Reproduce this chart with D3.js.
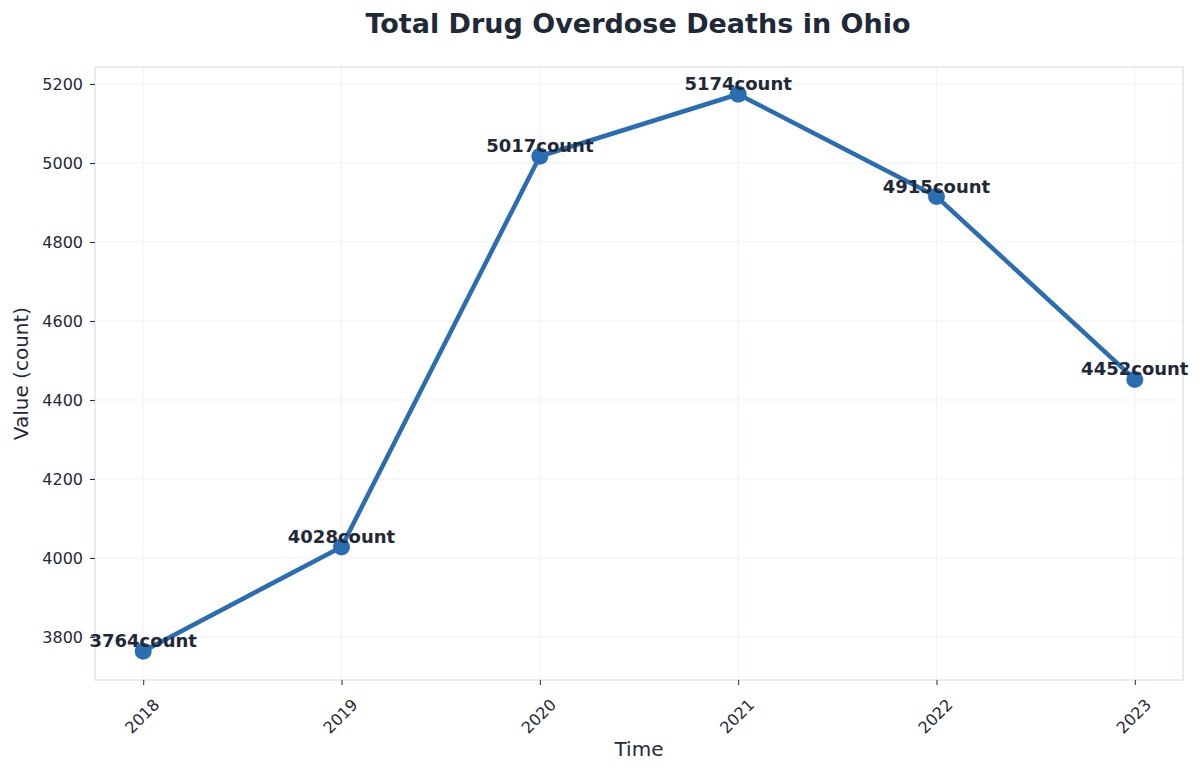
<!DOCTYPE html>
<html>
<head>
<meta charset="utf-8">
<script src="https://cdn.jsdelivr.net/npm/d3@7"></script>
<style>
  body { margin: 0; background: #fff; }
  text { font-family: "DejaVu Sans", sans-serif; }
</style>
</head>
<body>
<div id="chart"></div>
<script>
// Data
const years = [2018, 2019, 2020, 2021, 2022, 2023]
const deaths = [3764, 4028, 5017, 5174, 4915, 4452]
const yTicks = [3800, 4000, 4200, 4400, 4600, 4800, 5000, 5200]

const dataset = years.map((y, i) => ({ year: y, value: deaths[i] }))

// Dimensions
const width = 1200, height = 773
const margin = { top: 67, right: 17, bottom: 93, left: 95 }
const ctrWidth = width - margin.left - margin.right
const ctrHeight = height - margin.top - margin.bottom

const textColor = '#1f2937'
const lineColor = '#2a6db0'

const svg = d3.select('#chart').append('svg')
  .attr('width', width)
  .attr('height', height)

const ctr = svg.append('g')
  .attr('transform', `translate(${margin.left},${margin.top})`)

// Scales
const xScale = d3.scaleLinear()
  .domain([2017.757, 2023.243])
  .range([0, ctrWidth])

const yScale = d3.scaleLinear()
  .domain([3691, 5243])
  .range([ctrHeight, 0])

// grid
ctr.append('g').selectAll('line')
  .data(yTicks).join('line')
  .attr('x1', 0).attr('x2', ctrWidth)
  .attr('y1', d => yScale(d)).attr('y2', d => yScale(d))
  .attr('stroke', '#f0f2f5').attr('stroke-width', 1)

ctr.append('g').selectAll('line')
  .data(years).join('line')
  .attr('y1', 0).attr('y2', ctrHeight)
  .attr('x1', d => xScale(d)).attr('x2', d => xScale(d))
  .attr('stroke', '#f0f2f5').attr('stroke-width', 1)

// frame
ctr.append('rect')
  .attr('width', ctrWidth).attr('height', ctrHeight)
  .attr('fill', 'none')
  .attr('stroke', '#e2e5ea').attr('stroke-width', 1.5)

// Axes
const xAxis = d3.axisBottom(xScale)
  .tickValues(years)
  .tickFormat(d3.format('d'))
  .tickSize(5).tickPadding(6)
const xAxisGroup = ctr.append('g')
  .attr('transform', `translate(0,${ctrHeight})`)
  .call(xAxis)
xAxisGroup.attr('font-size', null).attr('font-family', null)
xAxisGroup.select('.domain').remove()
xAxisGroup.selectAll('.tick line').attr('stroke', textColor)
xAxisGroup.selectAll('text')
  .attr('fill', textColor)
  .style('font-size', '16px')
  .attr('text-anchor', 'end')
  .attr('dy', null)
  .attr('transform', 'translate(9,18) rotate(-45)')

const yAxis = d3.axisLeft(yScale)
  .tickValues(yTicks)
  .tickFormat(d3.format('d'))
  .tickSize(5).tickPadding(7)
const yAxisGroup = ctr.append('g').call(yAxis)
yAxisGroup.attr('font-size', null).attr('font-family', null)
yAxisGroup.select('.domain').remove()
yAxisGroup.selectAll('.tick line').attr('stroke', textColor)
yAxisGroup.selectAll('text')
  .attr('fill', textColor)
  .style('font-size', '16px')

// Line
const lineGenerator = d3.line()
  .x(d => xScale(d.year))
  .y(d => yScale(d.value))

ctr.append('path')
  .datum(dataset)
  .attr('d', lineGenerator)
  .attr('fill', 'none')
  .attr('stroke', lineColor)
  .attr('stroke-width', 4.5)
  .attr('stroke-linejoin', 'round')

ctr.append('g').selectAll('circle')
  .data(dataset).join('circle')
  .attr('cx', d => xScale(d.year))
  .attr('cy', d => yScale(d.value))
  .attr('r', 8.5)
  .attr('fill', lineColor)

// value labels
ctr.append('g').selectAll('text')
  .data(dataset).join('text')
  .attr('x', d => xScale(d.year))
  .attr('y', d => yScale(d.value) - 4)
  .attr('text-anchor', 'middle')
  .attr('fill', textColor)
  .style('font-size', '18px')
  .style('font-weight', 'bold')
  .text(d => `${d.value}count`)

// Title & axis labels
svg.append('text')
  .attr('x', 638).attr('y', 33)
  .attr('text-anchor', 'middle')
  .attr('fill', textColor)
  .style('font-size', '27px')
  .style('font-weight', 'bold')
  .text('Total Drug Overdose Deaths in Ohio')

svg.append('text')
  .attr('x', margin.left + ctrWidth / 2).attr('y', 756)
  .attr('text-anchor', 'middle')
  .attr('fill', textColor)
  .style('font-size', '20px')
  .text('Time')

svg.append('text')
  .attr('transform', `translate(28,${margin.top + ctrHeight / 2}) rotate(-90)`)
  .attr('text-anchor', 'middle')
  .attr('fill', textColor)
  .style('font-size', '20px')
  .text('Value (count)')
</script>
</body>
</html>
